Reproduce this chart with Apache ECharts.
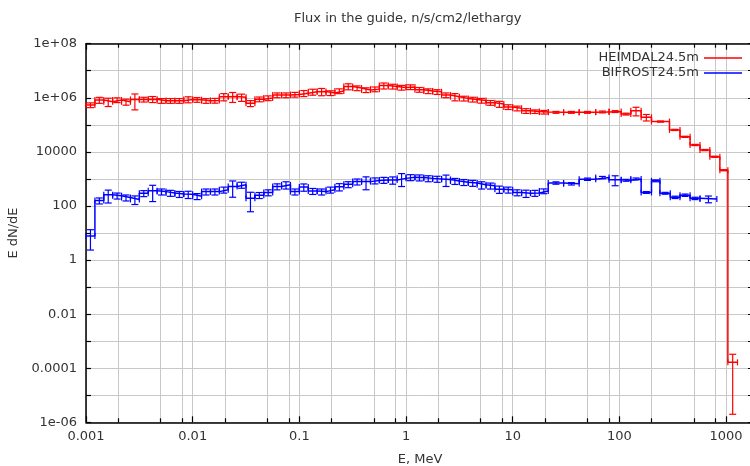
<!DOCTYPE html>
<html><head><meta charset="utf-8">
<script src="https://cdn.jsdelivr.net/npm/echarts@6/dist/echarts.min.js"></script>
<style>html,body{margin:0;padding:0;background:#fff}#c{width:750px;height:466px}</style>
</head><body><div id="c"></div>
<script>
// ---- axis ticks ----
const xTickValues = [0.001, 0.01, 0.1, 1, 10, 100, 1000];
const xTickLabels = ['0.001', '0.01', '0.1', '1', '10', '100', '1000'];
const xMinorGrid = [0.002, 0.005, 0.008, 0.02, 0.05, 0.08, 0.2, 0.5, 0.8, 2, 5, 8, 20, 50, 80, 200, 500, 800];
const xRange = [0.001, 1828];
const yTickValues = [1e8, 1e6, 1e4, 100, 1, 0.01, 1e-4, 1e-6];
const yTickLabels = ['1e+08', '1e+06', '10000', '100', '1', '0.01', '0.0001', '1e-06'];
const yGridValues = [1e-6, 1e-5, 1e-4, 1e-3, 0.01, 0.1, 1, 10, 100, 1e3, 1e4, 1e5, 1e6, 1e7, 1e8];

// ---- bin edges (MeV) ----
const lowEdges = [0.001, 0.001212, 0.001468, 0.001778, 0.002154, 0.00261, 0.003162, 0.003831, 0.004642, 0.005623, 0.006813, 0.008254,
  0.01, 0.01212, 0.01468, 0.01778, 0.02154, 0.0261, 0.03162, 0.03831, 0.04642, 0.05623, 0.06813, 0.08254,
  0.1, 0.1212, 0.1468, 0.1778, 0.2154, 0.261, 0.3162, 0.3831, 0.4642, 0.5623, 0.6813, 0.8254,
  1, 1.212, 1.468, 1.778, 2.154, 2.61, 3.162, 3.831, 4.642, 5.623, 6.813, 8.254,
  10, 12.12, 14.68, 17.78, 21.54];
const heimdalHighEdges = [30, 42, 60, 80, 104, 128, 160, 200, 295, 370, 460, 570, 705, 875, 1040, 1280];
const bifrostHighEdges = [30, 42, 60, 80, 104, 128, 160, 200, 240, 300, 370, 460, 570, 820];

// ---- series values ----
const heimdalName = 'HEIMDAL24.5m';
const heimdalFlux = [5.4e5, 8.3e5, 7.2e5, 8.3e5, 7.1e5, 8.7e5, 8.7e5, 8.9e5, 7.8e5, 7.8e5,
  7.8e5, 8.7e5, 8.5e5, 7.8e5, 7.9e5, 1.1e6, 1.12e6, 1.05e6, 6.3e5, 8.9e5,
  9.8e5, 1.26e6, 1.26e6, 1.32e6, 1.48e6, 1.66e6, 1.7e6, 1.51e6, 1.78e6, 2.63e6,
  2.29e6, 1.95e6, 2.09e6, 2.82e6, 2.63e6, 2.4e6, 2.51e6, 2.0e6, 1.78e6, 1.66e6,
  1.26e6, 1.1e6, 9.5e5, 8.7e5, 7.9e5, 6.6e5, 5.9e5, 4.6e5, 4.1e5, 3.3e5,
  3.1e5, 2.95e5,
  2.9e5, 2.9e5, 2.9e5, 3.0e5, 3.1e5, 2.5e5, 3.3e5, 1.9e5, 1.32e5, 6.5e4,
  3.6e4, 1.8e4, 1.17e4, 6.6e3, 2.1e3, 1.65e-4];
const heimdalRelErr = [0.2, 0.25, 0.34, 0.2, 0.25, 0.59, 0.2, 0.25, 0.2, 0.2,
  0.2, 0.25, 0.2, 0.2, 0.2, 0.3, 0.4, 0.3, 0.25, 0.2,
  0.2, 0.2, 0.2, 0.2, 0.25, 0.25, 0.3, 0.2, 0.2, 0.25,
  0.2, 0.2, 0.2, 0.25, 0.2, 0.2, 0.2, 0.2, 0.2, 0.2,
  0.2, 0.3, 0.2, 0.2, 0.2, 0.2, 0.25, 0.2, 0.2, 0.2,
  0.15, 0.15,
  0.08, 0.08, 0.08, 0.08, 0.08, 0.08, 0.35, 0.27, 0.05, 0.05,
  0.05, 0.05, 0.05, 0.05, 0.05, 0.988];

const bifrostName = 'BIFROST24.5m';
const bifrostFlux = [7.8, 158, 257, 240, 204, 174, 295, 363, 339, 302,
  275, 269, 229, 339, 339, 398, 525, 603, 191, 251,
  316, 525, 603, 339, 501, 355, 339, 398, 513, 631,
  794, 794, 871, 912, 912, 1047, 1148, 1122, 1047, 1000,
  955, 832, 759, 708, 603, 562, 417, 398, 316, 295,
  302, 355,
  708, 661, 977, 1122, 933, 891, 1000, 316, 851, 295,
  209, 251, 191, 182];
const bifrostRelErr = [0.7, 0.25, 0.5, 0.25, 0.25, 0.35, 0.25, 0.6, 0.25, 0.25,
  0.25, 0.3, 0.25, 0.25, 0.25, 0.25, 0.6, 0.25, 0.68, 0.25,
  0.25, 0.25, 0.3, 0.25, 0.3, 0.25, 0.25, 0.25, 0.3, 0.25,
  0.25, 0.5, 0.25, 0.25, 0.3, 0.5, 0.25, 0.25, 0.25, 0.25,
  0.45, 0.25, 0.25, 0.25, 0.3, 0.25, 0.3, 0.25, 0.25, 0.3,
  0.25, 0.2,
  0.1, 0.1, 0.1, 0.1, 0.4, 0.08, 0.08, 0.08, 0.08, 0.08,
  0.1, 0.1, 0.1, 0.28];

const heimdalEdges = lowEdges.concat(heimdalHighEdges);
const bifrostEdges = lowEdges.concat(bifrostHighEdges);

// ---- build ----
const L = Math.log10;
function stepData(edges, vals) {
  const d = vals.map((v, i) => [L(edges[i]), L(v)]);
  d.push([L(edges[vals.length]), L(vals[vals.length - 1])]);
  return d;
}
function errData(edges, vals, rel) {
  return vals.map((v, i) => [L(edges[i]), L(edges[i + 1]), L(v), L(Math.max(v * (1 - rel[i]), 1e-7)), L(v * (1 + rel[i]))]);
}
function renderErr(params, api) {
  const xlo = api.value(0), xhi = api.value(1), y = api.value(2), ylo = api.value(3), yhi = api.value(4);
  const xc = (xlo + xhi) / 2;
  const t = api.coord([xc, yhi]), b = api.coord([xc, ylo]), l = api.coord([xlo, y]), r = api.coord([xhi, y]);
  const st = { stroke: api.visual('color'), lineWidth: 1.2 };
  const cap = 3.5, et = 3;
  return { type: 'group', children: [
    { type: 'line', shape: { x1: t[0], y1: t[1], x2: b[0], y2: b[1] }, style: st },
    { type: 'line', shape: { x1: t[0] - cap, y1: t[1], x2: t[0] + cap, y2: t[1] }, style: st },
    { type: 'line', shape: { x1: b[0] - cap, y1: b[1], x2: b[0] + cap, y2: b[1] }, style: st },
    { type: 'line', shape: { x1: l[0], y1: l[1] - et, x2: l[0], y2: l[1] + et }, style: st },
    { type: 'line', shape: { x1: r[0], y1: r[1] - et, x2: r[0], y2: r[1] + et }, style: st }
  ]};
}
function labelFor(values, labels) {
  return function (v) {
    for (let i = 0; i < values.length; i++) if (Math.abs(L(values[i]) - v) < 1e-6) return labels[i];
    return '';
  };
}
const xMin = L(xRange[0]), xMax = L(xRange[1]);
const yMin = L(yGridValues[0]), yMax = L(yGridValues[yGridValues.length - 1]);
const xMajor = xTickValues.map(L), xMinor = xMinorGrid.map(L);
const yMajor = yTickValues.map(L), yAll = yGridValues.map(L);
const txt = { color: '#333', fontSize: 13, fontFamily: 'DejaVu Sans' };
const gridLine = { show: true, lineStyle: { color: '#c8c8c8', width: 1, type: 'solid' } };
const blackLine = { show: true, onZero: false, lineStyle: { color: '#000', width: 1.5 } };
const noLine = { show: false, onZero: false };

const option = {
  animation: false,
  backgroundColor: '#fff',
  title: { text: 'Flux in the guide, n/s/cm2/lethargy', left: 289, top: 7,
    textStyle: { color: '#333', fontSize: 13, fontWeight: 'normal', fontFamily: 'DejaVu Sans' } },
  legend: { orient: 'vertical', right: 3, top: 45.5, align: 'right', itemGap: 0,
    itemWidth: 38, itemHeight: 1.5,
    textStyle: { color: '#333', fontSize: 13, fontFamily: 'DejaVu Sans', lineHeight: 15 },
    data: [{ name: heimdalName, icon: 'rect' }, { name: bifrostName, icon: 'rect' }] },
  grid: { left: 86, top: 43.7, bottom: 43.7, right: -4, outerBoundsMode: 'none' },
  xAxis: [
    { type: 'value', position: 'bottom', min: xMin, max: xMax,
      axisLine: blackLine,
      axisTick: { show: true, inside: true, length: 6, customValues: xMajor, lineStyle: { color: '#000', width: 1.2 } },
      axisLabel: Object.assign({ customValues: xMajor, margin: 8, formatter: labelFor(xTickValues, xTickLabels) }, txt),
      splitLine: gridLine,
      name: 'E, MeV', nameLocation: 'middle', nameGap: 31, nameTextStyle: txt },
    { type: 'value', position: 'bottom', min: xMin, max: xMax,
      axisLine: noLine,
      axisTick: { show: true, inside: true, length: 4, customValues: xMinor, lineStyle: { color: '#000', width: 1.2 } },
      axisLabel: { show: false }, splitLine: gridLine },
    { type: 'value', position: 'top', min: xMin, max: xMax,
      axisLine: blackLine,
      axisTick: { show: true, inside: true, length: 6, customValues: xMajor, lineStyle: { color: '#000', width: 1.2 } },
      axisLabel: { show: false }, splitLine: { show: false } },
    { type: 'value', position: 'top', min: xMin, max: xMax,
      axisLine: noLine,
      axisTick: { show: true, inside: true, length: 4, customValues: xMinor, lineStyle: { color: '#000', width: 1.2 } },
      axisLabel: { show: false }, splitLine: { show: false } }
  ],
  yAxis: [
    { type: 'value', position: 'left', min: yMin, max: yMax,
      axisLine: blackLine,
      axisTick: { show: true, inside: true, length: 5, customValues: yAll, lineStyle: { color: '#000', width: 1.2 } },
      axisLabel: Object.assign({ customValues: yMajor, margin: 9, formatter: labelFor(yTickValues, yTickLabels) }, txt),
      splitLine: gridLine,
      name: 'E dN/dE', nameLocation: 'middle', nameGap: 58, nameTextStyle: txt },
    { type: 'value', position: 'right', min: yMin, max: yMax,
      axisLine: blackLine,
      axisTick: { show: true, inside: true, length: 6, customValues: yAll, lineStyle: { color: '#000', width: 1.2 } },
      axisLabel: { show: false }, splitLine: { show: false } }
  ],
  series: [
    { name: heimdalName, type: 'line', step: 'end', symbol: 'none', xAxisIndex: 0, yAxisIndex: 0,
      data: stepData(heimdalEdges, heimdalFlux), color: '#ff0000', lineStyle: { color: '#ff0000', width: 1.5 } },
    { name: heimdalName + ' err', type: 'custom', xAxisIndex: 0, yAxisIndex: 0, renderItem: renderErr,
      encode: { x: [0, 1], y: [2, 3, 4] }, itemStyle: { color: '#ff0000' },
      data: errData(heimdalEdges, heimdalFlux, heimdalRelErr) },
    { name: bifrostName, type: 'line', step: 'end', symbol: 'none', xAxisIndex: 0, yAxisIndex: 0,
      data: stepData(bifrostEdges, bifrostFlux), color: '#0000ff', lineStyle: { color: '#0000ff', width: 1.5 } },
    { name: bifrostName + ' err', type: 'custom', xAxisIndex: 0, yAxisIndex: 0, renderItem: renderErr,
      encode: { x: [0, 1], y: [2, 3, 4] }, itemStyle: { color: '#0000ff' },
      data: errData(bifrostEdges, bifrostFlux, bifrostRelErr) }
  ]
};
const chart = echarts.init(document.getElementById('c'), null, { renderer: 'canvas' });
chart.setOption(option);
</script></body></html>
